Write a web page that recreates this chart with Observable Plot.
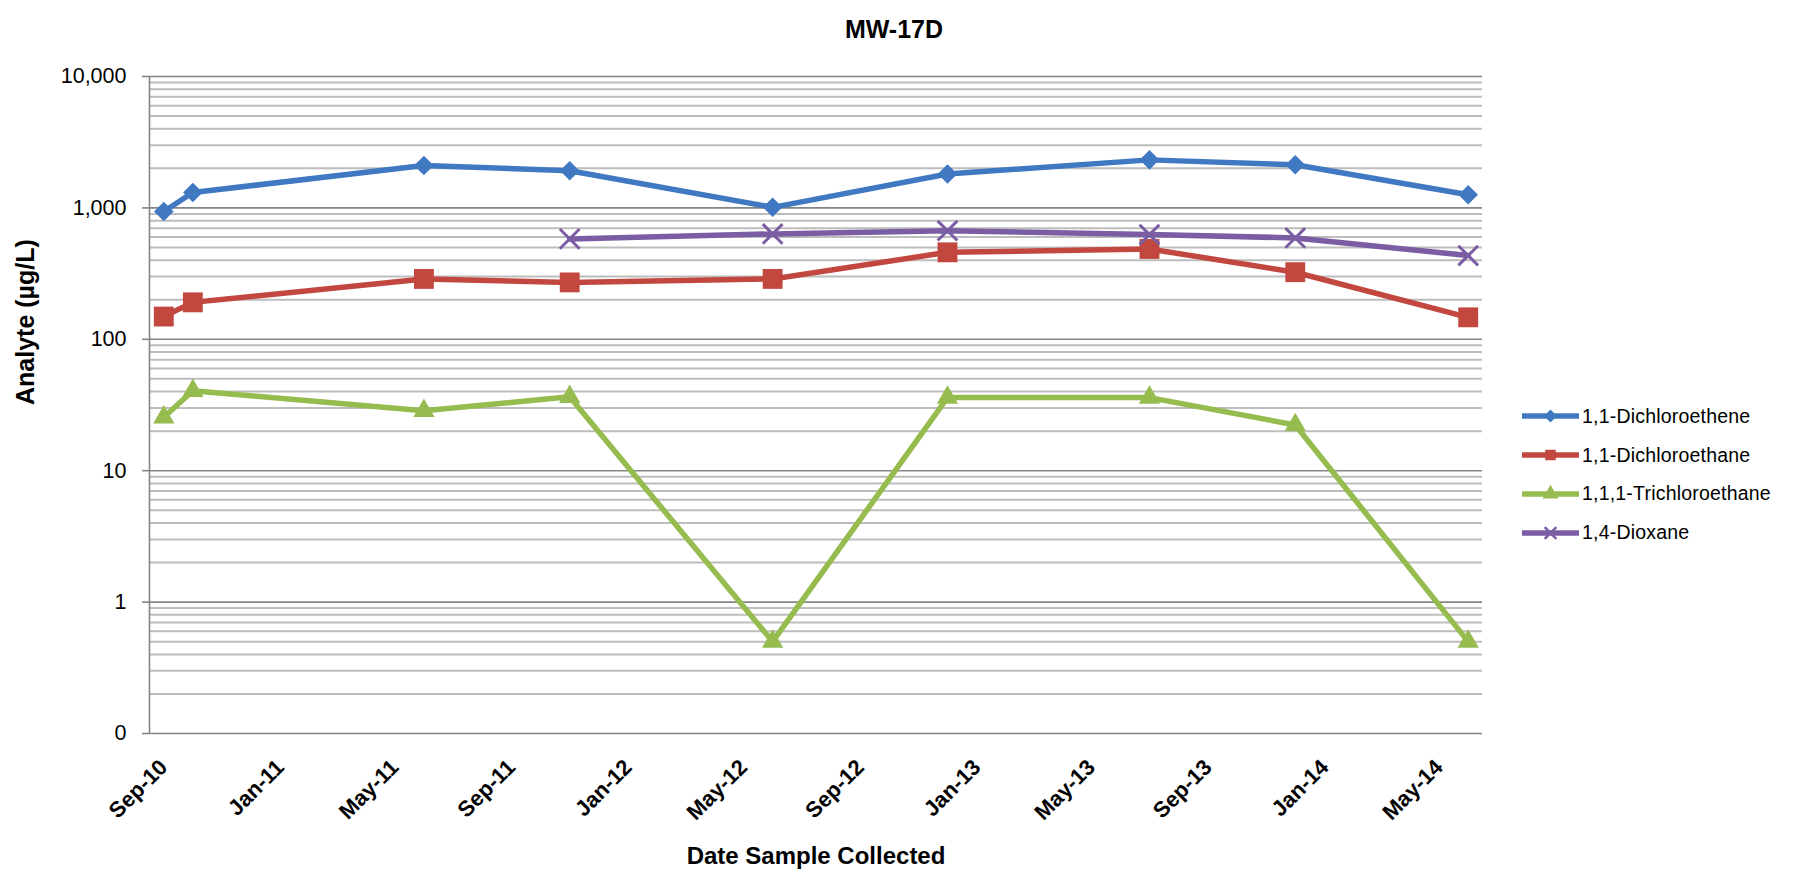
<!DOCTYPE html>
<html>
<head>
<meta charset="utf-8">
<script src="https://cdn.jsdelivr.net/npm/d3@7"></script>
<script src="https://cdn.jsdelivr.net/npm/@observablehq/plot@0.6"></script>
<style>
  html, body { margin: 0; padding: 0; background: #ffffff; }
  body { font-family: "Liberation Sans", Arial, sans-serif; color: #000; }
  #wrap { position: relative; width: 1799px; height: 872px; overflow: hidden; background: #fff; }
  #chart { position: absolute; left: 0; top: 0; }
  #legend { position: absolute; left: 1522px; top: 397px; }
  .item { display: flex; align-items: center; height: 38.8px; font-size: 19.5px; letter-spacing: 0.2px; white-space: nowrap; }
  .item svg { margin-right: 3px; }
</style>
</head>
<body>
<div id="wrap">
  <div id="chart"></div>
  <div id="legend"></div>
</div>
<script>
// ---- data ----
const chartTitle = "MW-17D";
const xTitle = "Date Sample Collected";
const yTitle = "Analyte (µg/L)";

const sampleMonths = ["2010-09", "2010-10", "2011-06", "2011-11", "2012-06", "2012-12", "2013-07", "2013-12", "2014-06"];

const dichloroethene  = [940, 1310, 2100, 1920, 1010, 1810, 2320, 2130, 1260];
const dichloroethane  = [149, 191, 288, 271, 288, 459, 487, 324, 147];
const trichloroethane = [25.5, 40.6, 28.6, 36.5, 0.5, 36, 36, 22.3, 0.5];
const dioxane         = [null, null, null, 581, 634, 671, 627, 591, 434];

const seriesNames   = ["1,1-Dichloroethene", "1,1-Dichloroethane", "1,1,1-Trichloroethane", "1,4-Dioxane"];
const seriesColors  = ["#4079C2", "#C2473F", "#96BC50", "#7B5DA3"];
const seriesSymbols = ["diamond2", "square", "triangle", "times"];

const yTickValues = [0.1, 1, 10, 100, 1000, 10000];
const xTickLabels = ["Sep-10", "Jan-11", "May-11", "Sep-11", "Jan-12", "May-12", "Sep-12", "Jan-13", "May-13", "Sep-13", "Jan-14", "May-14"];

// ---- derived tables ----
const parseMonth = d3.utcParse("%Y-%m");
const parseLabel = d3.utcParse("%b-%y");
const midMonth = d => new Date((+d + +d3.utcMonth.offset(d, 1)) / 2);

const seriesValues = [dichloroethene, dichloroethane, trichloroethane, dioxane];
const rows = [];
seriesValues.forEach((vals, i) => {
  vals.forEach((v, j) => {
    if (v != null) rows.push({series: seriesNames[i], date: midMonth(parseMonth(sampleMonths[j])), value: v});
  });
});

const xDomain = [parseMonth(sampleMonths[0]), d3.utcMonth.offset(parseMonth(sampleMonths[sampleMonths.length - 1]), 1)];
const xTicks = xTickLabels.map(s => midMonth(parseLabel(s)));
const minorTicks = [];
for (let e = -1; e < 4; e++) for (let k = 2; k <= 9; k++) minorTicks.push(+(k * Math.pow(10, e)).toPrecision(3));

const dotSizes = {"diamond2": 8.8, "square": 11.2, "triangle": 7.9, "times": 9.0};

const dotMarks = seriesNames.map((name, i) => {
  const sym = seriesSymbols[i];
  const data = rows.filter(d => d.series === name);
  if (sym === "times") {
    return Plot.dot(data, {x: "date", y: "value", symbol: sym, stroke: seriesColors[i], strokeWidth: 3, r: dotSizes[sym]});
  }
  return Plot.dot(data, {x: "date", y: "value", symbol: sym, fill: seriesColors[i], stroke: "none", r: dotSizes[sym]});
});

const yFmt = d3.format(",.0f");

const chart = Plot.plot({
  width: 1799,
  height: 872,
  marginLeft: 149,
  marginRight: 317,
  marginTop: 76,
  marginBottom: 139,
  style: {fontFamily: "'Liberation Sans', Arial, sans-serif", color: "#000", background: "#fff", overflow: "visible"},
  x: {type: "utc", domain: xDomain},
  y: {type: "log", domain: [0.1, 10000]},
  color: {domain: seriesNames, range: seriesColors},
  marks: [
    Plot.ruleY(minorTicks, {stroke: "#bdbdbd", strokeWidth: 2}),
    Plot.ruleY(yTickValues, {stroke: "#858585", strokeWidth: 1.6}),
    Plot.ruleX([xDomain[0]], {stroke: "#858585", strokeWidth: 1.6}),
    Plot.axisY(yTickValues, {
      tickFormat: d => yFmt(d), tickSize: 7, tickPadding: 16, stroke: "#858585", strokeWidth: 1.6,
      fontSize: 21.5, label: null
    }),
    Plot.axisX(xTicks, {
      tickFormat: d => d3.utcFormat("%b-%y")(d), tickRotate: -45, tickSize: 0, tickPadding: 30,
      fontSize: 22, fontWeight: "bold", label: null
    }),
    Plot.line(rows, {x: "date", y: "value", z: "series", stroke: "series", strokeWidth: 5.5, strokeLinejoin: "round"}),
    ...dotMarks,
    Plot.text([yTitle], {frameAnchor: "left", dx: -124, rotate: -90, fontSize: 25, fontWeight: "bold"}),
    Plot.text([xTitle], {frameAnchor: "bottom", lineAnchor: "middle", dy: 123, fontSize: 24, fontWeight: "bold"}),
    Plot.text([chartTitle], {frameAnchor: "top", lineAnchor: "middle", dy: -47, dx: 78, fontSize: 25, fontWeight: "bold"})
  ]
});
document.getElementById("chart").appendChild(chart);

// ---- legend ----
const legend = d3.select("#legend");
const symMap = {"diamond2": d3.symbolDiamond2, "square": d3.symbolSquare, "triangle": d3.symbolTriangle, "times": d3.symbolTimes};
seriesNames.forEach((name, i) => {
  const item = legend.append("div").attr("class", "item");
  const svg = item.append("svg").attr("width", 57).attr("height", 22);
  svg.append("line").attr("x1", 0).attr("x2", 57).attr("y1", 11).attr("y2", 11)
    .attr("stroke", seriesColors[i]).attr("stroke-width", 5.5);
  const sym = seriesSymbols[i];
  const p = svg.append("path").attr("transform", "translate(28.5,11)")
    .attr("d", d3.symbol(symMap[sym], sym === "times" ? 90 : 110)());
  if (sym === "times") p.attr("fill", "none").attr("stroke", seriesColors[i]).attr("stroke-width", 2.5);
  else p.attr("fill", seriesColors[i]);
  item.append("span").text(name);
});
</script>
</body>
</html>
